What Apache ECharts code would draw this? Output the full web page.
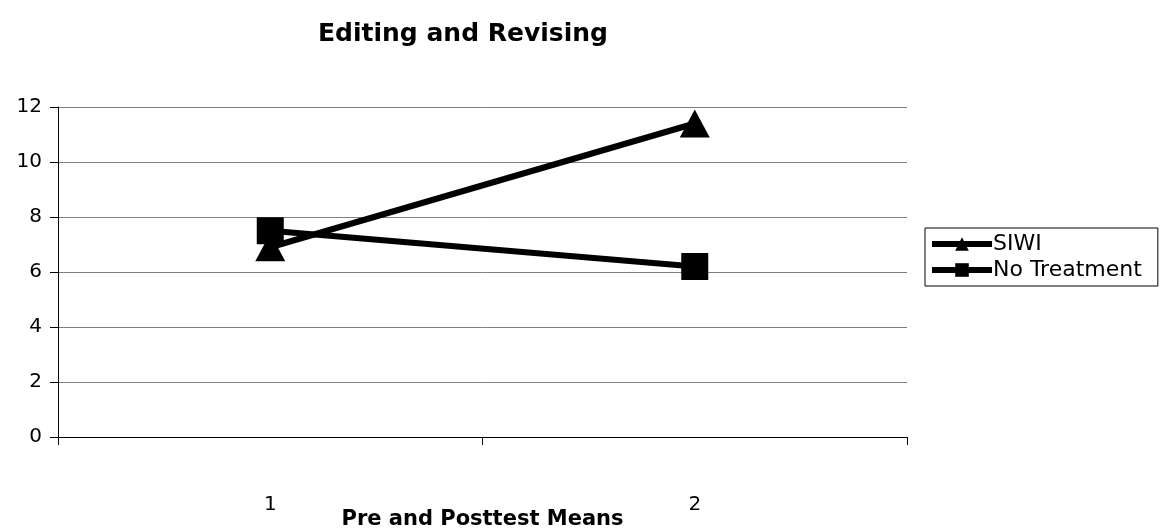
<!DOCTYPE html>
<html>
<head>
<meta charset="utf-8">
<script src="https://cdn.jsdelivr.net/npm/echarts@6/dist/echarts.min.js"></script>
<style>
  html, body { margin: 0; padding: 0; background: #fff; }
  #chart { width: 1162px; height: 531px; }
</style>
</head>
<body>
<div id="chart"></div>
<script>
// Pre/posttest means for the editing and revising measure
const categories = ['1', '2'];
const siwiMeans = [6.9, 11.4];
const noTreatmentMeans = [7.5, 6.2];
const yTicks = { min: 0, max: 12, step: 2 };

const FONT = 'DejaVu Sans';

const chart = echarts.init(document.getElementById('chart'), null, { renderer: 'canvas' });

chart.setOption({
  backgroundColor: '#ffffff',
  animation: false,
  title: {
    text: 'Editing and Revising',
    left: 313,
    top: 17,
    textStyle: { fontFamily: FONT, fontWeight: 'bold', fontSize: 25, color: '#000' }
  },
  legend: {
    orient: 'vertical',
    left: 925,
    top: 228,
    padding: [5, 16, 5, 4],
    itemGap: 4,
    itemWidth: 60,
    itemHeight: 17,
    borderColor: '#000',
    borderWidth: 1,
    lineStyle: { width: 6 },
    textStyle: { fontFamily: FONT, fontSize: 22, color: '#000', padding: [0, 0, 0, -4] },
    data: ['SIWI', 'No Treatment']
  },
  grid: {
    left: 58, right: 255, top: 107, bottom: 94,
    containLabel: false,
    outerBoundsMode: 'none'
  },
  xAxis: {
    type: 'category',
    data: categories,
    boundaryGap: true,
    name: 'Pre and Posttest Means',
    nameLocation: 'middle',
    nameGap: 72,
    nameMoveOverlap: false,
    nameTextStyle: { fontFamily: FONT, fontWeight: 'bold', fontSize: 21, color: '#000' },
    axisLine: { lineStyle: { color: '#000', width: 1 } },
    axisTick: { show: true, length: 8, inside: false, lineStyle: { color: '#000' } },
    axisLabel: { fontFamily: FONT, fontSize: 20, color: '#000', margin: 58 },
    splitLine: { show: false }
  },
  yAxis: {
    type: 'value',
    min: yTicks.min,
    max: yTicks.max,
    interval: yTicks.step,
    axisLine: { show: true, lineStyle: { color: '#000', width: 1 } },
    axisTick: { show: true, length: 8, lineStyle: { color: '#000' } },
    axisLabel: { fontFamily: FONT, fontSize: 20, color: '#000', margin: 16 },
    splitLine: { show: true, lineStyle: { color: '#7f7f7f', width: 1 } }
  },
  series: [
    {
      name: 'SIWI',
      type: 'line',
      data: siwiMeans,
      symbol: 'triangle',
      symbolSize: [30, 28],
      itemStyle: { color: '#000' },
      lineStyle: { color: '#000', width: 6 },
      z: 3
    },
    {
      name: 'No Treatment',
      type: 'line',
      data: noTreatmentMeans,
      symbol: 'rect',
      symbolSize: 27,
      itemStyle: { color: '#000' },
      lineStyle: { color: '#000', width: 6 },
      z: 4
    }
  ]
});
</script>
</body>
</html>
